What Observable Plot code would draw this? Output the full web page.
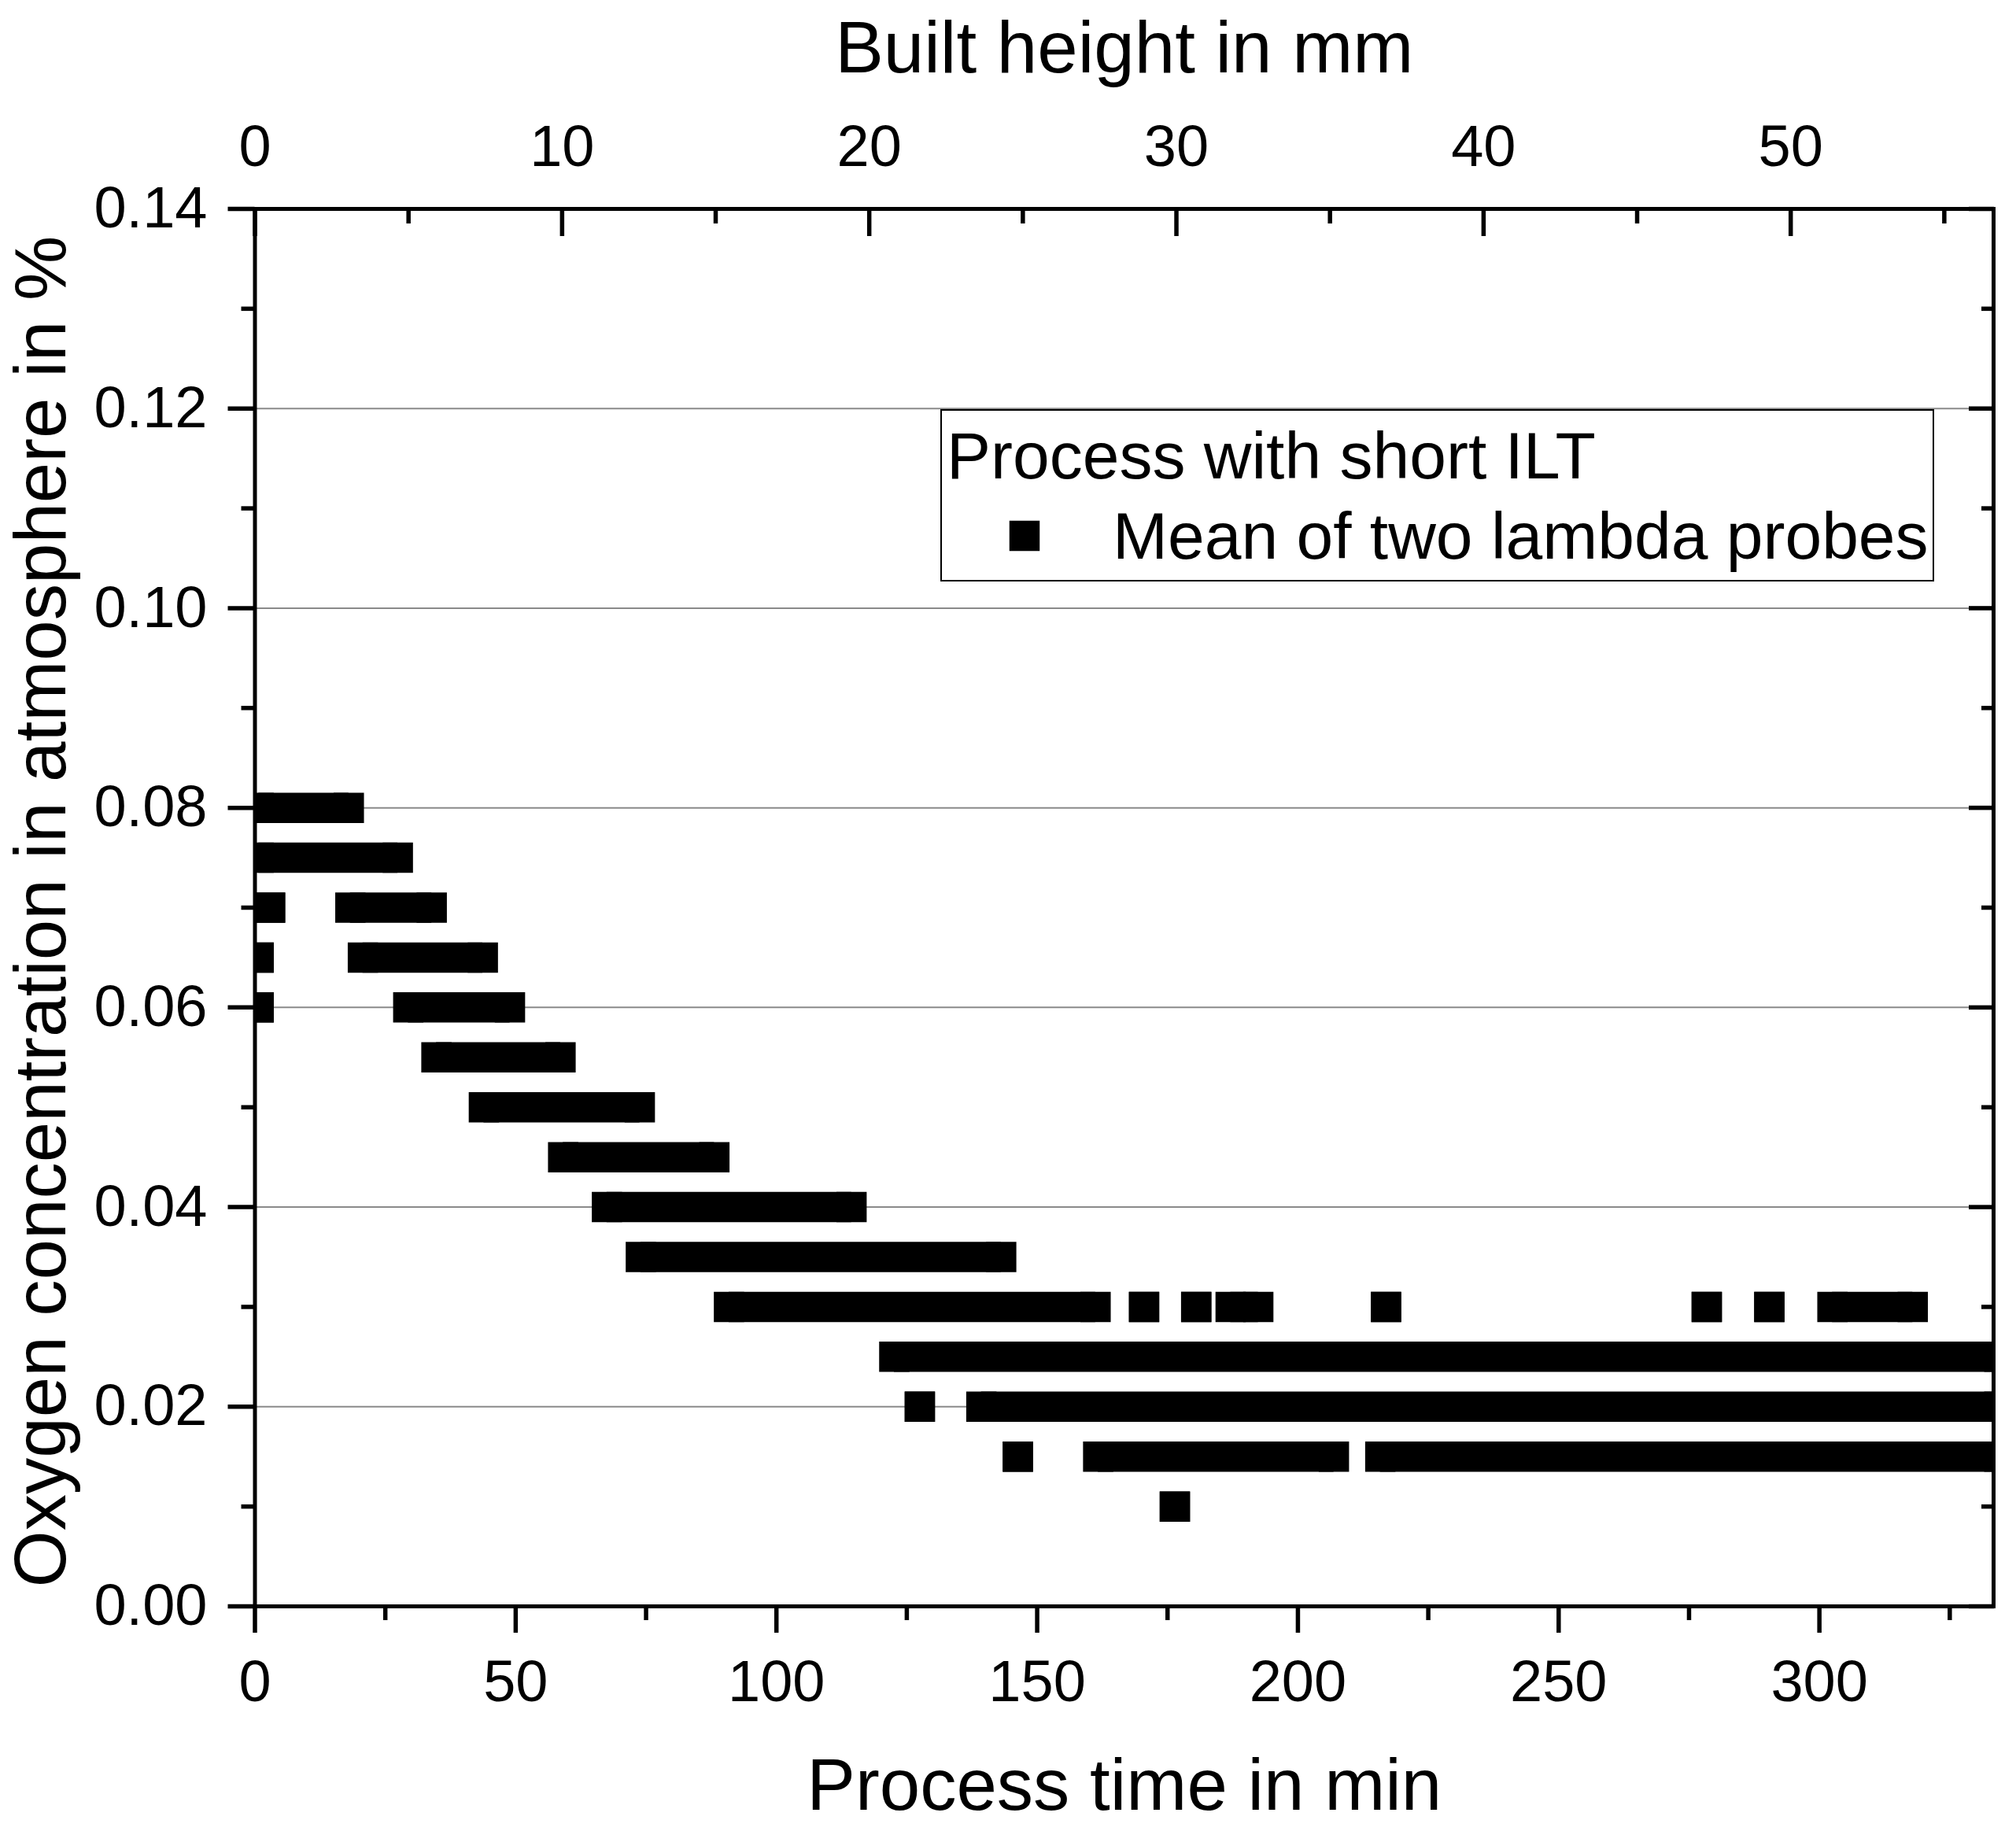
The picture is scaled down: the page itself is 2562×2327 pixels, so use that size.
<!DOCTYPE html>
<html>
<head>
<meta charset="utf-8">
<script src="https://cdn.jsdelivr.net/npm/d3@7"></script>
<script src="https://cdn.jsdelivr.net/npm/@observablehq/plot@0.6"></script>
<style>
  html, body { margin: 0; padding: 0; background: white; }
  svg { display: block; }
</style>
</head>
<body>
<div id="chart"></div>
<script>
// ---- data: runs of the square markers (first and last sample time, min) ----
const o2Level  = [0.08, 0.075, 0.07, 0.07, 0.065, 0.065, 0.06, 0.06, 0.055, 0.05, 0.045, 0.04, 0.035,
                  0.03, 0.03, 0.03, 0.03, 0.03, 0.03, 0.03, 0.03,
                  0.025, 0.02, 0.02, 0.015, 0.015, 0.015, 0.01];
const runStart = [0.7, 0.7, 2.9, 18.3, 0.7, 20.7, 0.7, 29.4, 34.8, 43.9, 59.1, 67.5, 74.0,
                  90.9, 170.5, 180.5, 187.1, 216.9, 278.4, 290.4, 302.5,
                  122.6, 127.5, 139.3, 146.3, 161.7, 215.8, 176.4];
const runEnd   = [18.0, 27.4, 2.9, 33.9, 0.7, 43.7, 0.7, 48.9, 58.6, 73.8, 88.1, 114.4, 143.1,
                  161.2, 170.5, 180.5, 192.4, 216.9, 278.4, 290.4, 317.9,
                  334.5, 127.5, 334.5, 146.3, 206.9, 334.5, 176.4];

// ---- axes ----
const xDomain = [0, 333.4];
const yDomain = [0, 0.14];
const xMajor = [0, 50, 100, 150, 200, 250, 300];
const xMinor = [25, 75, 125, 175, 225, 275, 325];
const yMajor = [0, 0.02, 0.04, 0.06, 0.08, 0.10, 0.12, 0.14];
const yMinor = [0.01, 0.03, 0.05, 0.07, 0.09, 0.11, 0.13];
const yGrid  = [0.02, 0.04, 0.06, 0.08, 0.10, 0.12];
const mmMajor = [0, 10, 20, 30, 40, 50];
const mmMinor = [5, 15, 25, 35, 45, 55];
const minPerMm = 5.89; // process minutes per mm of built height

const xLabel = "Process time in min";
const x2Label = "Built height in mm";
const yLabel = "Oxygen concentration in atmosphere in %";
const legendTitle = "Process with short ILT";
const seriesName = "Mean of two lambda probes";

const runs = o2Level.map((v, i) => ({v, t1: runStart[i], t2: runEnd[i]}));
const ends = runs.flatMap(r => [{v: r.v, t: r.t1}, {v: r.v, t: r.t2}]);

const marker = 38.5;   // marker side in px
const tickW = 5.5;
const font = "'Liberation Sans', Arial, sans-serif";
const tickFont = 74;
const titleFont = 92.5;
const legendFont = 84;

const chart = Plot.plot({
  width: 2562,
  height: 2327,
  marginTop: 265,
  marginRight: 29,
  marginBottom: 286,
  marginLeft: 323.5,
  style: {fontFamily: font, background: "white", color: "black", overflow: "visible"},
  x: {domain: xDomain},
  y: {domain: yDomain},
  marks: [
    Plot.gridY(yGrid, {stroke: "#8a8a8a", strokeOpacity: 1, strokeWidth: 2}),
    Plot.ruleY(runs, {y: "v", x1: "t1", x2: "t2", stroke: "black", strokeWidth: marker, clip: true}),
    Plot.dot(ends, {x: "t", y: "v", symbol: "square", r: marker / Math.sqrt(Math.PI), fill: "black", stroke: null, clip: true}),
    Plot.frame({stroke: "black", strokeWidth: 5}),
    // bottom axis
    Plot.axisX({anchor: "bottom", ticks: xMajor, tickSize: 34, strokeWidth: tickW, tickFormat: () => "", label: null}),
    Plot.axisX({anchor: "bottom", ticks: xMinor, tickSize: 18, strokeWidth: tickW, tickFormat: () => "", label: null}),
    Plot.axisX({anchor: "bottom", ticks: xMajor, tickSize: 0, tickPadding: 68, fontSize: tickFont, tickFormat: d => String(d), label: null}),
    // top axis (built height)
    Plot.axisX({anchor: "top", ticks: mmMajor.map(m => m * minPerMm), tickSize: -34, strokeWidth: tickW, tickFormat: () => "", label: null}),
    Plot.axisX({anchor: "top", ticks: mmMinor.map(m => m * minPerMm), tickSize: -18, strokeWidth: tickW, tickFormat: () => "", label: null}),
    Plot.axisX({anchor: "top", ticks: mmMajor.map(m => m * minPerMm), tickSize: 0, tickPadding: 55, fontSize: tickFont, tickFormat: d => String(Math.round(d / minPerMm)), label: null}),
    // left axis
    Plot.axisY({anchor: "left", ticks: yMajor, tickSize: 34, strokeWidth: tickW, tickFormat: () => "", label: null}),
    Plot.axisY({anchor: "left", ticks: yMinor, tickSize: 17, strokeWidth: tickW, tickFormat: () => "", label: null}),
    Plot.axisY({anchor: "left", ticks: yMajor, tickSize: 0, tickPadding: 60.5, fontSize: tickFont, tickFormat: d3.format(".2f"), label: null}),
    // right axis (ticks inward)
    Plot.axisY({anchor: "right", ticks: yMajor, tickSize: -32, strokeWidth: tickW, tickFormat: () => "", label: null}),
    Plot.axisY({anchor: "right", ticks: yMinor, tickSize: -16, strokeWidth: tickW, tickFormat: () => "", label: null}),
    // axis titles
    Plot.text([xLabel], {text: d => d, frameAnchor: "bottom", dy: 229, fontSize: titleFont, textAnchor: "middle", lineAnchor: "middle"}),
    Plot.text([x2Label], {text: d => d, frameAnchor: "top", dy: -203, fontSize: titleFont, textAnchor: "middle", lineAnchor: "middle"}),
    Plot.text([yLabel], {text: d => d, frameAnchor: "left", dx: -271, dy: 5, rotate: -90, fontSize: titleFont, textAnchor: "middle", lineAnchor: "middle"})
  ]
});

// ---- in-plot legend (Origin style box) ----
const svg = d3.select(chart);
const lg = svg.append("g").attr("font-family", font).attr("fill", "black").attr("text-anchor", "start");
lg.append("rect").attr("x", 1196).attr("y", 521).attr("width", 1261).attr("height", 217)
  .attr("fill", "white").attr("stroke", "black").attr("stroke-width", 2);
lg.append("text").attr("x", 1203).attr("y", 607.5).attr("font-size", legendFont).text(legendTitle);
lg.append("rect").attr("x", 1302 - marker / 2).attr("y", 681 - marker / 2).attr("width", marker).attr("height", marker).attr("fill", "black");
lg.append("text").attr("x", 1414).attr("y", 709.5).attr("font-size", legendFont).text(seriesName);

document.getElementById("chart").appendChild(chart);
</script>
</body>
</html>
